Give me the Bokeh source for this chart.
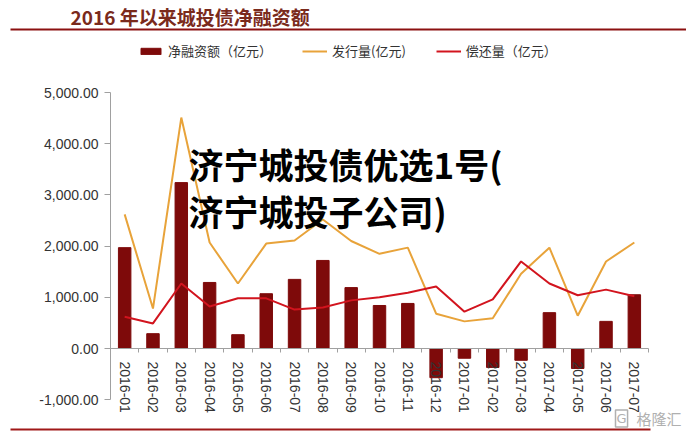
from bokeh.plotting import figure
from bokeh.models import (ColumnDataSource, Range1d, Legend, LegendItem,
                          Label, BoxAnnotation, NumeralTickFormatter, FixedTicker)
from bokeh.embed import file_html
from bokeh.resources import INLINE

# ---- data ----
months = ["2016-01", "2016-02", "2016-03", "2016-04", "2016-05", "2016-06", "2016-07",
          "2016-08", "2016-09", "2016-10", "2016-11", "2016-12", "2017-01", "2017-02",
          "2017-03", "2017-04", "2017-05", "2017-06", "2017-07"]
net_financing = [1970, 290, 3240, 1290, 270, 1070, 1350, 1720, 1190, 840, 880,
                 -570, -190, -370, -230, 700, -390, 530, 1050]
issuance = [2620, 780, 4510, 2070, 1270, 2050, 2110, 2520, 2100, 1850, 1970,
            680, 530, 590, 1460, 1970, 640, 1700, 2070]
repayment = [620, 490, 1270, 820, 980, 980, 760, 800, 940, 1000, 1090,
             1210, 720, 960, 1700, 1270, 1040, 1150, 1020]
y_ticks = [-1000, 0, 1000, 2000, 3000, 4000, 5000]

title_text = "2016 年以来城投债净融资额"
legend_labels = ["净融资额（亿元）", "发行量(亿元)", "偿还量（亿元）"]
watermark_lines = ["济宁城投债优选1号(", "济宁城投子公司)"]
logo_text = "格隆汇"

CJK = "Noto Sans CJK SC"
W, H = 686, 433

idx = list(range(len(months)))
src = ColumnDataSource(dict(i=idx, m=months, net=net_financing, iss=issuance, rep=repayment))

n = len(months)
# frame covers the whole canvas; axes are pinned inside it
p = figure(width=W, height=H, x_range=Range1d(-4.385, n - 0.5 + 1.342),
           y_range=Range1d(-1660, 6797), output_backend="svg", toolbar_location=None,
           min_border=0)
p.title.text = ""
p.outline_line_color = None
p.grid.visible = False
p.background_fill_color = "white"
p.border_fill_color = "white"

bars = p.vbar(x="i", top="net", width=0.44, source=src, color="#7E0A0A")
l_iss = p.line(x="i", y="iss", source=src, line_color="#E8A33A", line_width=2)
l_rep = p.line(x="i", y="rep", source=src, line_color="#D2141E", line_width=2)

# y axis pinned at the left edge of the first category
ya = p.yaxis[0]
ya.fixed_location = -0.5
ya.bounds = (y_ticks[0], y_ticks[-1])
ya.ticker = FixedTicker(ticks=y_ticks)
ya.formatter = NumeralTickFormatter(format="0,0.00")
ya.axis_line_color = "#a0a0a0"
ya.major_tick_line_color = "#a0a0a0"
ya.major_tick_out = 6
ya.major_tick_in = 0
ya.minor_tick_line_color = None
ya.major_label_text_font = "Liberation Sans"
ya.major_label_text_font_size = "14px"
ya.major_label_text_color = "#333333"
ya.major_label_standoff = 6

# x axis pinned at y = 0
xa = p.xaxis[0]
xa.fixed_location = 0
xa.bounds = (-0.5, n - 0.5)
xa.ticker = FixedTicker(ticks=idx, minor_ticks=[k - 0.5 for k in range(n + 1)])
xa.major_label_overrides = {k: months[k] for k in idx}
xa.axis_line_color = "#a0a0a0"
xa.major_tick_line_color = None
xa.minor_tick_line_color = "#a0a0a0"
xa.minor_tick_out = 4
xa.minor_tick_in = 0
xa.major_label_orientation = -1.5707963
xa.major_label_text_font = "Liberation Sans"
xa.major_label_text_font_size = "14px"
xa.major_label_text_color = "#333333"
xa.major_label_standoff = 7

# legend above the plotting area
legend = Legend(items=[LegendItem(label=legend_labels[0], renderers=[bars]),
                       LegendItem(label=legend_labels[1], renderers=[l_iss]),
                       LegendItem(label=legend_labels[2], renderers=[l_rep])],
                orientation="horizontal", location=(138, H - 60),
                margin=0, padding=0, spacing=30, glyph_width=25, glyph_height=8,
                label_standoff=5, label_height=16,
                label_text_font=CJK, label_text_font_size="13px",
                label_text_color="#333333",
                border_line_color=None, background_fill_alpha=0)
p.add_layout(legend, "center")

# title and rules (screen units, y measured up from the bottom)
p.add_layout(Label(x=70, y=H - 16, x_units="screen", y_units="screen", text=title_text,
                   text_font=CJK, text_font_style="bold", text_font_size="19px",
                   text_color="#7A2A1C", text_baseline="middle"))
p.add_layout(BoxAnnotation(left=10, right=W, top=H - 28, bottom=H - 30,
                           left_units="screen", right_units="screen",
                           top_units="screen", bottom_units="screen",
                           fill_color="#8B1010", fill_alpha=1, line_color=None))
p.add_layout(BoxAnnotation(left=10, right=650, top=H - 428, bottom=H - 430,
                           left_units="screen", right_units="screen",
                           top_units="screen", bottom_units="screen",
                           fill_color="#A01818", fill_alpha=1, line_color=None))

# watermark
p.add_layout(Label(x=188, y=H - 163, x_units="screen", y_units="screen", text=watermark_lines[0],
                   text_font=CJK, text_font_style="bold", text_font_size="35px",
                   text_color="black", text_baseline="middle"))
p.add_layout(Label(x=188, y=H - 210, x_units="screen", y_units="screen", text=watermark_lines[1],
                   text_font=CJK, text_font_style="bold", text_font_size="35px",
                   text_color="black", text_baseline="middle"))

# logo
p.add_layout(Label(x=615, y=H - 418, x_units="screen", y_units="screen", text="G",
                   text_font="DejaVu Sans", text_font_size="13px", text_color="#b0b0b0",
                   text_baseline="middle", border_line_color="#b0b0b0", border_line_width=1.5,
                   padding=1))
p.add_layout(Label(x=636, y=H - 418, x_units="screen", y_units="screen", text=logo_text,
                   text_font=CJK, text_font_size="15px", text_color="#b0b0b0",
                   text_baseline="middle"))

open("out.html", "w").write(file_html(p, INLINE))
